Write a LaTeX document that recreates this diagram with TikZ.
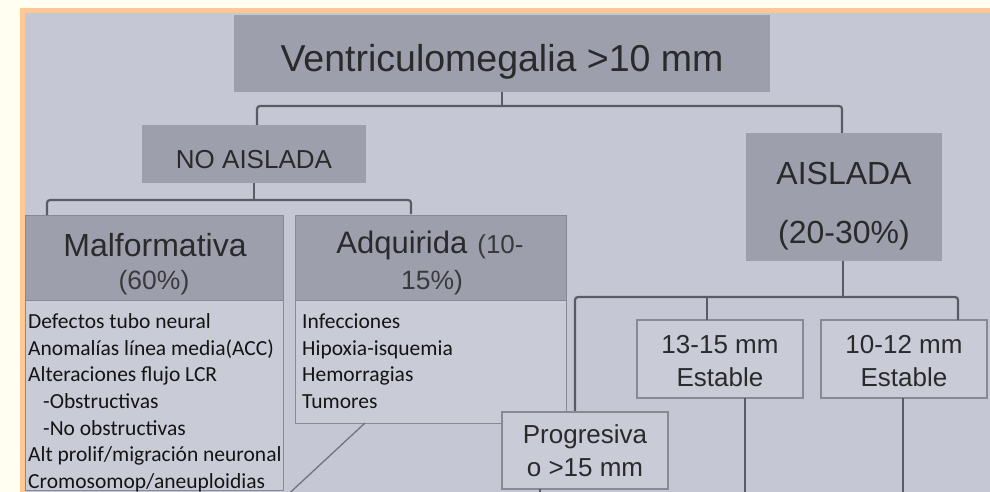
\documentclass[tikz,border=0pt]{standalone}
\usepackage{fontspec}
\setmainfont{Liberation Sans}
\newfontfamily\calfont{Carlito}
\definecolor{cream}{HTML}{FFFEF1}
\definecolor{frameor}{HTML}{FFC791}
\definecolor{slidebg}{HTML}{C5C8D4}
\definecolor{hdrfill}{HTML}{9DA0AC}
\definecolor{bodyfill}{HTML}{C9CCD7}
\definecolor{boxline}{HTML}{878A95}
\definecolor{connline}{HTML}{585C64}
\definecolor{titletext}{HTML}{2A2A2C}
\definecolor{softtext}{HTML}{3A3A3E}
\tikzset{
  hdrbox/.style={rectangle, fill=hdrfill, inner sep=0pt, outer sep=0pt, anchor=north west},
  bodybox/.style={rectangle, fill=bodyfill, draw=boxline, line width=1pt, inner sep=0pt, outer sep=0pt, anchor=north west},
  smallbox/.style={rectangle, fill=bodyfill, draw=boxline, line width=1.2pt, inner sep=0pt, outer sep=0pt, anchor=north west, minimum width=166pt, minimum height=78pt},
  conn/.style={draw=connline, line width=2.2pt, rounded corners=3pt},
  thinconn/.style={draw=connline!85, line width=1.3pt},
  lbl/.style={anchor=base, inner sep=0pt, text=titletext},
  listline/.style={anchor=base west, inner sep=0pt, text=black!92, font=\calfont\fontsize{21.5}{26}\selectfont},
}
\begin{document}
\begin{tikzpicture}[x=1pt,y=-1pt]
\useasboundingbox (0,0) rectangle (990,492);
\begin{scope}
\clip (0,0) rectangle (990,492);
\fill[cream] (0,0) rectangle (990,492);
\fill[frameor] (20,8) rectangle (1000,500);
\fill[slidebg] (25,13) rectangle (1000,500);

% boxes
\node[hdrbox, minimum width=536pt, minimum height=77pt] (top) at (234,15) {};
\node[hdrbox, minimum width=224pt, minimum height=58pt] (noais) at (142,125) {};
\node[hdrbox, minimum width=196pt, minimum height=128pt] (ais) at (746,133) {};

\node[bodybox, minimum width=258pt, minimum height=190pt] (malfb) at (25,300) {};
\node[hdrbox, draw=boxline, line width=1pt, minimum width=258pt, minimum height=85pt] (malfh) at (25,215) {};
\node[bodybox, minimum width=271pt, minimum height=123pt] (adqb) at (295,300) {};
\node[hdrbox, draw=boxline, line width=1pt, minimum width=271pt, minimum height=85pt] (adqh) at (295,215) {};

\node[smallbox] (b1315) at (637,320) {};
\node[smallbox] (b1012) at (821,320) {};

% junction coordinates
\coordinate (j1) at (502,106);
\coordinate (j2) at (254,200);
\coordinate (j3) at (843,297);
\coordinate (md) at (47,215);
\coordinate (ad) at (411,214);
\coordinate (pd) at (575,412);
\coordinate (bd1) at (707,320);
\coordinate (bd2) at (958,320);
\coordinate (dg) at (365,423);
\coordinate (dgend) at (281,501);
\coordinate (e1) at (745,500);
\coordinate (e2) at (903,500);
\coordinate (e3) at (540,500);

% connectors
\draw[conn] (top.south -| j1) -- (j1);
\draw[conn] (noais.north -| 257,0) |- (j1) -| (ais.north -| 842,0);
\draw[conn] (noais.south) -- (j2);
\draw[conn] (md) |- (j2) -| (ad);
\draw[conn] (ais.south -| j3) -- (j3);
\draw[conn] (pd) |- (j3) -| (bd2);
\draw[conn] (bd1) -- (bd1 |- j3);
\draw[conn] (b1315.south -| e1) -- (e1);
\draw[conn] (b1012.south -| e2) -- (e2);
\draw[thinconn] (dg) -- (dgend);

\node[smallbox, minimum height=77pt] (prog) at (502,412) {};
\draw[conn] (prog.south -| e3) -- (e3);

% titles
\node[lbl, font=\fontsize{37.5}{40}\selectfont] (ttop) at (502,72) {Ventriculomegalia >10 mm};
\node[lbl, font=\fontsize{26}{30}\selectfont] (tnoais) at (254,168) {NO AISLADA};
\node[lbl, font=\fontsize{32}{36}\selectfont] (tais1) at (844,184) {AISLADA};
\node[lbl, font=\fontsize{32}{36}\selectfont] (tais2) at (844,243) {(20-30\%)};
\node[lbl, font=\fontsize{32}{36}\selectfont] (tmalf1) at (155,256) {Malformativa};
\node[lbl, text=softtext, font=\fontsize{26.5}{30}\selectfont] (tmalf2) at (154,289) {(60\%)};
\node[lbl, font=\fontsize{31}{36}\selectfont] (tadq1) at (430,253) {Adquirida\hspace{10pt}{\fontsize{26}{30}\selectfont\color{softtext}(10-}};
\node[lbl, text=softtext, font=\fontsize{26.5}{30}\selectfont] (tadq2) at (432,289) {15\%)};
\node[lbl, font=\fontsize{26}{30}\selectfont] (t13a) at (720,353) {13-15 mm};
\node[lbl, font=\fontsize{26}{30}\selectfont] (t13b) at (720,386) {Estable};
\node[lbl, font=\fontsize{26}{30}\selectfont] (t10a) at (904,353) {10-12 mm};
\node[lbl, font=\fontsize{26}{30}\selectfont] (t10b) at (904,386) {Estable};
\node[lbl, font=\fontsize{26}{30}\selectfont] (tpa) at (585,443) {Progresiva};
\node[lbl, font=\fontsize{26}{30}\selectfont] (tpb) at (585,476) {o >15 mm};

% lists
\node[listline] (m1) at (28,328) {Defectos tubo neural};
\node[listline] (m2) at (28,355) {Anomalías línea media(ACC)};
\node[listline] (m3) at (28,381) {Alteraciones flujo LCR};
\node[listline] (m4) at (43,408) {-Obstructivas};
\node[listline] (m5) at (43,435) {-No obstructivas};
\node[listline] (m6) at (28,461) {Alt prolif/migración neuronal};
\node[listline] (m7) at (28,488) {Cromosomop/aneuploidias};

\node[listline] (a1) at (302,328) {Infecciones};
\node[listline] (a2) at (302,355) {Hipoxia-isquemia};
\node[listline] (a3) at (302,381) {Hemorragias};
\node[listline] (a4) at (302,408) {Tumores};
\end{scope}
\end{tikzpicture}
\end{document}
